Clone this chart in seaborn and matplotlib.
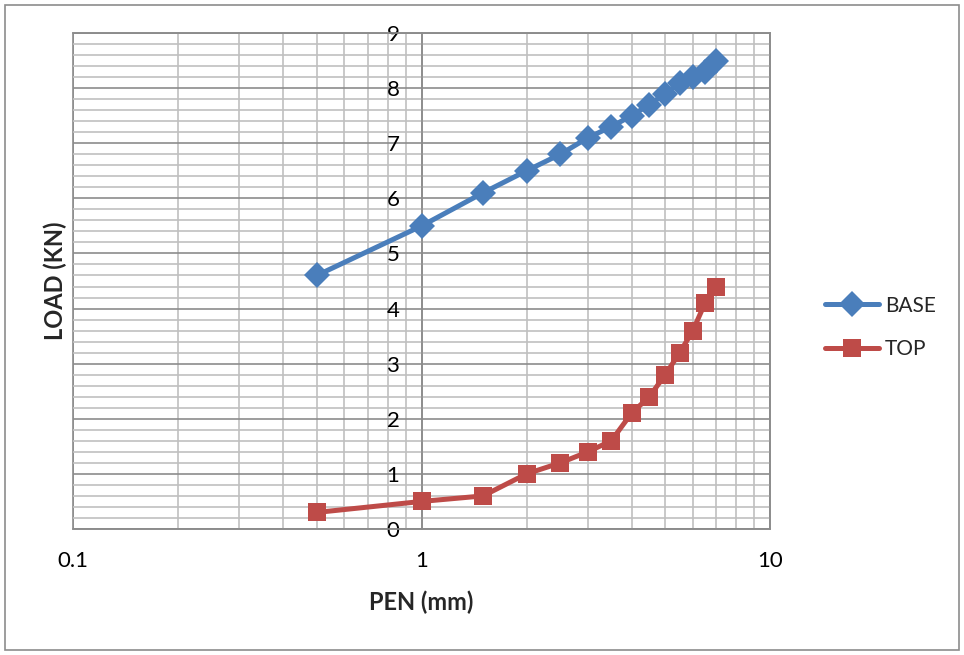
import numpy as np
import pandas as pd
import matplotlib
matplotlib.use("Agg")
import matplotlib.pyplot as plt
import seaborn as sns
from matplotlib.ticker import MultipleLocator, LogLocator, FixedLocator, FuncFormatter, NullFormatter
from matplotlib.patches import Rectangle

pen = [0.5, 1, 1.5, 2, 2.5, 3, 3.5, 4, 4.5, 5, 5.5, 6, 6.5, 7]
base = [4.6, 5.5, 6.1, 6.5, 6.8, 7.1, 7.3, 7.5, 7.7, 7.9, 8.1, 8.2, 8.3, 8.5]
top = [0.3, 0.5, 0.6, 1.0, 1.2, 1.4, 1.6, 2.1, 2.4, 2.8, 3.2, 3.6, 4.1, 4.4]
series_names = ["BASE", "TOP"]
x_ticks = [0.1, 1, 10]
x_tick_labels = ["0.1", "1", "10"]
y_ticks = list(range(0, 10))

df = pd.DataFrame({
    "PEN": pen + pen,
    "LOAD": base + top,
    "series": [series_names[0]] * len(pen) + [series_names[1]] * len(pen),
})

sns.set_style("white")
plt.rcParams["font.family"] = ["Lato", "DejaVu Sans"]

fig = plt.figure(figsize=(9.64, 6.55), dpi=100)
ax = fig.add_axes([0.0757, 0.1924, 0.7233, 0.7572])

palette = {"BASE": "#4A7EBB", "TOP": "#BE4B48"}
sns.lineplot(data=df, x="PEN", y="LOAD", hue="series", style="series",
             markers={"BASE": "D", "TOP": "s"}, dashes=False, palette=palette,
             linewidth=3.6, markersize=13.5, markeredgewidth=0, ax=ax, zorder=3)

ax.set_xscale("log")
ax.set_xlim(0.1, 10)
ax.set_ylim(0, 9)

def fmt_x(v, p):
    for t, lab in zip(x_ticks, x_tick_labels):
        if abs(v - t) < 1e-9 * max(1, t):
            return lab
    return ""

ax.xaxis.set_major_locator(FixedLocator(x_ticks))
ax.xaxis.set_major_formatter(FuncFormatter(fmt_x))
ax.xaxis.set_minor_locator(LogLocator(base=10, subs=np.arange(2, 10)))
ax.xaxis.set_minor_formatter(NullFormatter())
ax.yaxis.set_major_locator(FixedLocator(y_ticks))
ax.yaxis.set_minor_locator(MultipleLocator(0.2))

ax.set_axisbelow(True)
ax.grid(which="major", color="#8C8C8C", linewidth=1.2)
ax.grid(which="minor", color="#C0C0C0", linewidth=1.2)

for s in ["top", "right", "bottom"]:
    ax.spines[s].set_visible(True)
    ax.spines[s].set_color("#8C8C8C")
    ax.spines[s].set_linewidth(1.2)
ax.spines["left"].set_position(("data", 1))
ax.spines["left"].set_color("#8C8C8C")
ax.spines["left"].set_linewidth(1.2)
ax.patch.set_edgecolor("#8C8C8C")
ax.patch.set_linewidth(1.2)

ax.tick_params(axis="both", which="major", direction="out", length=6, color="#8C8C8C",
               labelsize=16, labelcolor="black")
ax.tick_params(axis="x", which="major", pad=10)
ax.tick_params(axis="y", which="major", pad=10)
ax.tick_params(which="minor", length=0)

ax.set_xlabel("PEN (mm)", fontsize=17, fontweight="bold")
ax.set_ylabel("LOAD (KN)", fontsize=17, fontweight="bold")
ax.xaxis.set_label_coords(0.5, -0.125)
ax.yaxis.set_label_coords(-0.008, 0.5)

handles, labels = ax.get_legend_handles_labels()
ax.get_legend().remove()
fig.legend(handles, labels, loc="center left", bbox_to_anchor=(0.836, 0.5),
           frameon=False, fontsize=15, handlelength=2.6, labelspacing=1.15,
           handletextpad=0.3)

fig.patches.append(Rectangle((5 / 964, 5 / 655), 954 / 964, 645 / 655, transform=fig.transFigure,
                             fill=False, edgecolor="#8C8C8C", linewidth=1.2))

fig.savefig("out.png", dpi=100)
